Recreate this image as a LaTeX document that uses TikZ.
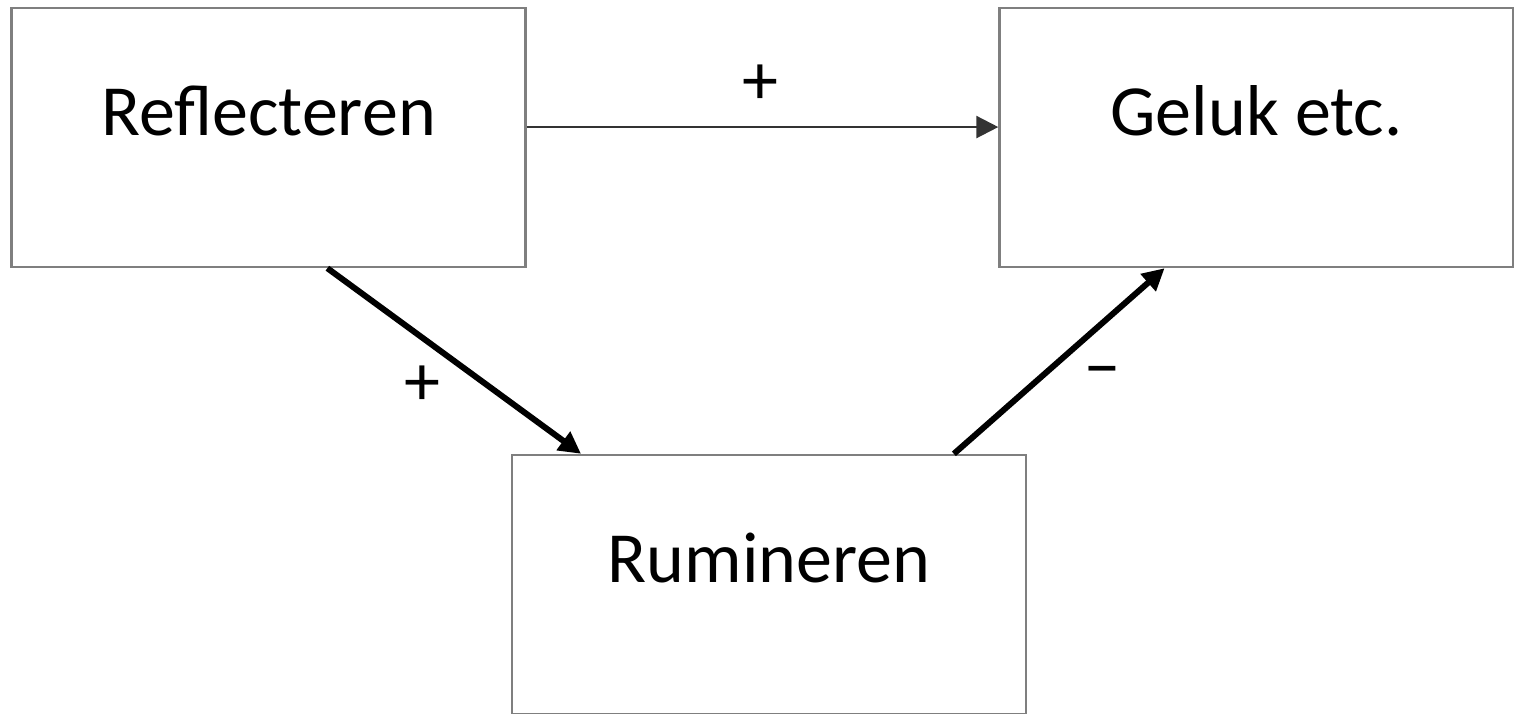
\documentclass[tikz,border=0pt]{standalone}
\usepackage{fontspec}
\setmainfont{Carlito}
\usetikzlibrary{arrows.meta,calc}
\definecolor{boxgray}{HTML}{7F7F7F}
\definecolor{linedark}{HTML}{333333}
\begin{document}
\begin{tikzpicture}[x=1pt,y=-1pt,
  box/.style={draw=boxgray, line width=2.4pt, inner sep=0pt, minimum width=514pt,
    text height=127pt, text depth=132pt, font=\fontsize{72}{86}\selectfont},
  sign/.style={inner sep=0pt, anchor=base, font=\fontsize{72}{86}\selectfont},
  thinarrow/.style={draw=linedark, line width=2.4pt, -{Triangle[length=22pt,width=22pt]}},
  thickarrow/.style={draw=black, line width=6pt, -{Triangle[length=22pt,width=22pt]}}]
\useasboundingbox (0,0) rectangle (1514,713);
\node[box] (refl) at (268.5,137.5) {Reflecteren};
\node[box] (geluk) at (1256.5,137.5) {Geluk etc.};
\node[box] (rumi) at (769,584.5) {Rumineren};
\draw[thinarrow] ($(refl.north east)!0.46!(refl.south east)$) -- ($(geluk.north west)!0.46!(geluk.south west)$);
\draw[thickarrow] ($(refl.south west)!0.614!(refl.south east)$) -- ($(rumi.north west)!0.136!(rumi.north east)$);
\draw[thickarrow] ($(rumi.north west)!0.858!(rumi.north east)$) -- ($(geluk.south west)!0.322!(geluk.south east)$);
\node[sign] (s1) at (760,104) {+};
\node[sign] (s2) at (422,405) {+};
\node[sign] (s3) at (1102,391) {−};
\end{tikzpicture}
\end{document}
